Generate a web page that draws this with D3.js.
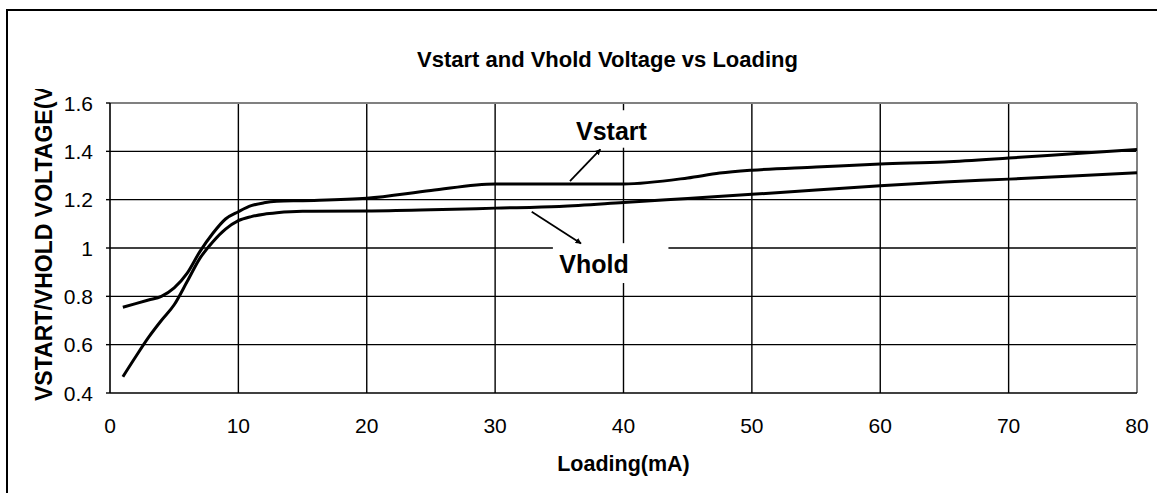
<!DOCTYPE html>
<html>
<head>
<meta charset="utf-8">
<script src="https://cdn.jsdelivr.net/npm/d3@7"></script>
<style>
  html, body { margin: 0; padding: 0; background: #fff; }
  svg { display: block; }
  text { font-family: "Liberation Sans", Arial, sans-serif; fill: #000; }
</style>
</head>
<body>
<svg id="chart" width="1157" height="493"></svg>
<script>
// ---- data ----
const loadingVstart = [1, 2, 3, 4, 5, 6, 7, 8, 9, 10, 11, 12, 13, 15, 20, 25, 30, 35, 40, 45, 47.5, 50, 55, 60, 65, 70, 75, 80];
const vstartValues  = [0.755, 0.77, 0.785, 0.80, 0.835, 0.895, 0.985, 1.06, 1.12, 1.15, 1.175, 1.187, 1.193, 1.196, 1.206, 1.238, 1.265, 1.265, 1.265, 1.29, 1.31, 1.322, 1.335, 1.348, 1.356, 1.372, 1.39, 1.408];
const loadingVhold  = [1, 2, 3, 4, 5, 6, 7, 8, 9, 10, 11, 12, 13, 15, 20, 25, 30, 35, 40, 45, 50, 55, 60, 65, 70, 75, 80];
const vholdValues   = [0.467, 0.55, 0.63, 0.70, 0.765, 0.86, 0.957, 1.025, 1.078, 1.113, 1.13, 1.14, 1.146, 1.152, 1.153, 1.158, 1.165, 1.172, 1.188, 1.205, 1.222, 1.24, 1.258, 1.273, 1.285, 1.298, 1.311];
const xTicks = [0, 10, 20, 30, 40, 50, 60, 70, 80];
const yTicks = [0.4, 0.6, 0.8, 1.0, 1.2, 1.4, 1.6];
const yTickLabels = ["0.4", "0.6", "0.8", "1", "1.2", "1.4", "1.6"];
const chartTitle = "Vstart and Vhold Voltage vs Loading";
const xTitle = "Loading(mA)";
const yTitle = "VSTART/VHOLD VOLTAGE(V)";
// annotations in data units: label position, arrow from -> to
const annVstart = { label: "Vstart", lx: 39.06, ly: 1.447, x1: 35.83, y1: 1.277, x2: 38.2, y2: 1.408 };
const annVhold  = { label: "Vhold",  lx: 37.7,  ly: 0.897, x1: 32.85, y1: 1.150, x2: 36.69, y2: 1.019 };

// ---- layout ----
const svg = d3.select("#chart");
const L = 110, R = 1137, T = 103, B = 393;
const x = d3.scaleLinear().domain([0, 80]).range([L, R]);
const y = d3.scaleLinear().domain([0.4, 1.6]).range([B, T]);

svg.append("rect").attr("width", 1157).attr("height", 493).attr("fill", "#fff");
const defs = svg.append("defs");

// outer frame (only left and top visible)
svg.append("rect").attr("x", 7).attr("y", 10).attr("width", 1170).attr("height", 520)
  .attr("fill", "none").attr("stroke", "#000").attr("stroke-width", 2);

// gridlines
const g = svg.append("g");
g.selectAll(".hg").data(yTicks.filter(v => v > 0.4 && v < 1.6)).enter().append("line")
  .attr("x1", L).attr("x2", R).attr("y1", d => y(d)).attr("y2", d => y(d))
  .attr("stroke", "#000").attr("stroke-width", 1.4);
g.selectAll(".vg").data(xTicks.filter(v => v > 0 && v < 80)).enter().append("line")
  .attr("x1", d => x(d)).attr("x2", d => x(d)).attr("y1", T).attr("y2", B)
  .attr("stroke", "#000").attr("stroke-width", 1.4);

// plot border: top/right gray, left/bottom black
svg.append("line").attr("x1", L).attr("x2", R).attr("y1", T).attr("y2", T).attr("stroke", "#808080").attr("stroke-width", 2);
svg.append("line").attr("x1", R).attr("x2", R).attr("y1", T).attr("y2", B).attr("stroke", "#808080").attr("stroke-width", 2);
svg.append("line").attr("x1", L).attr("x2", L).attr("y1", T).attr("y2", B).attr("stroke", "#000").attr("stroke-width", 1.6);
svg.append("line").attr("x1", L).attr("x2", R).attr("y1", B).attr("y2", B).attr("stroke", "#000").attr("stroke-width", 1.6);

// y tick marks and labels
svg.selectAll(".yt").data(yTicks).enter().append("line")
  .attr("x1", L - 4).attr("x2", L).attr("y1", d => y(d)).attr("y2", d => y(d))
  .attr("stroke", "#000").attr("stroke-width", 1.4);
svg.selectAll(".ytl").data(yTicks).enter().append("text")
  .attr("x", 93).attr("y", d => y(d)).attr("dy", "0.36em")
  .attr("text-anchor", "end").attr("font-size", 21)
  .text((d, i) => yTickLabels[i]);

// x tick labels
svg.selectAll(".xtl").data(xTicks).enter().append("text")
  .attr("x", d => x(d)).attr("y", 433)
  .attr("text-anchor", "middle").attr("font-size", 21)
  .text(d => d);

// titles
svg.append("text").attr("x", (L + R) / 2 - 16).attr("y", 67).attr("text-anchor", "middle")
  .attr("font-size", 22).attr("font-weight", "bold").text(chartTitle);
svg.append("text").attr("x", (L + R) / 2).attr("y", 471).attr("text-anchor", "middle")
  .attr("font-size", 21.5).attr("font-weight", "bold").text(xTitle);

// y-axis title, clipped at the top like the reference
const clip = defs.append("clipPath").attr("id", "yclip");
clip.append("rect").attr("x", 0).attr("y", 89).attr("width", 100).attr("height", 400);
const yt = svg.append("g").attr("clip-path", "url(#yclip)")
  .append("text").attr("transform", "translate(52,401) rotate(-90)")
  .attr("text-anchor", "start").attr("font-size", 22).attr("font-weight", "bold")
  .text(yTitle);
// scale so that "...VOLTAGE(V" ends just past the clip edge
try {
  const len = yt.node().getSubStringLength(0, yTitle.length - 1);
  const target = 401 - 86;
  yt.attr("font-size", 22 * target / len);
} catch (e) {}

// annotation boxes and labels
function annotate(a, box) {
  svg.append("rect").attr("x", x(box[0])).attr("y", y(box[1]))
    .attr("width", x(box[2]) - x(box[0])).attr("height", y(box[3]) - y(box[1]))
    .attr("fill", "#fff");
  svg.append("text").attr("x", x(a.lx)).attr("y", y(a.ly)).attr("text-anchor", "middle")
    .attr("font-size", 25).attr("font-weight", "bold").text(a.label);
}
annotate(annVstart, [35.5, 1.57, 42.5, 1.415]);
annotate(annVhold, [34.5, 1.02, 43.5, 0.855]);

defs.append("marker").attr("id", "arr").attr("viewBox", "0 0 10 10").attr("refX", 9).attr("refY", 5)
  .attr("markerWidth", 6).attr("markerHeight", 6).attr("markerUnits", "userSpaceOnUse")
  .attr("orient", "auto")
  .append("path").attr("d", "M0,0 L10,5 L0,10 z").attr("fill", "#000");
[annVstart, annVhold].forEach(a => {
  svg.append("line").attr("x1", x(a.x1)).attr("y1", y(a.y1)).attr("x2", x(a.x2)).attr("y2", y(a.y2))
    .attr("stroke", "#000").attr("stroke-width", 1.8).attr("marker-end", "url(#arr)");
});

// curves
const line = d3.line().x(d => x(d[0])).y(d => y(d[1])).curve(d3.curveMonotoneX);
svg.append("path").datum(loadingVstart.map((v, i) => [v, vstartValues[i]]))
  .attr("d", line).attr("fill", "none").attr("stroke", "#000").attr("stroke-width", 3);
svg.append("path").datum(loadingVhold.map((v, i) => [v, vholdValues[i]]))
  .attr("d", line).attr("fill", "none").attr("stroke", "#000").attr("stroke-width", 3);
</script>
</body>
</html>
